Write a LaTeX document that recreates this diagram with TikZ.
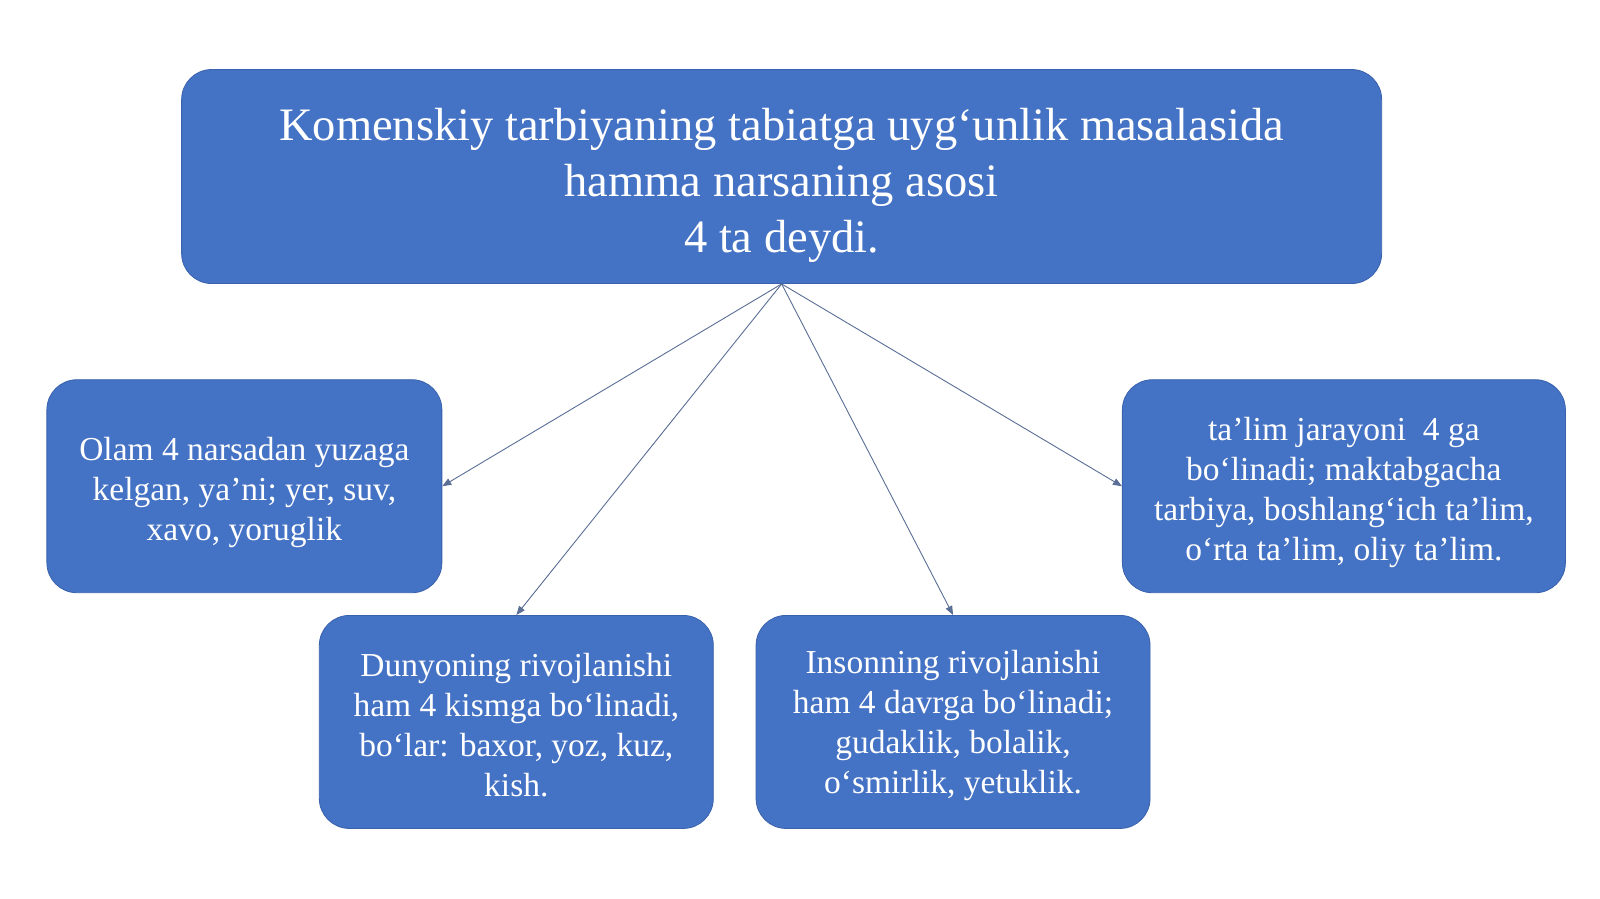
\documentclass[tikz,border=0pt]{standalone}
\usepackage{fontspec}
\setmainfont{Liberation Serif}
\usetikzlibrary{arrows.meta}
\definecolor{boxblue}{HTML}{4472C4}
\definecolor{boxedge}{HTML}{3A62AC}
\definecolor{arrowcol}{HTML}{5A6E96}
\begin{document}
\begin{tikzpicture}[x=1.0204pt,y=-1.0204pt,
  box/.style={draw=boxedge,line width=0.8pt,fill=boxblue,rounded corners=30pt,inner sep=0pt},
  txt/.style={text=white,align=center,inner sep=0pt},
  bigtext/.style={font=\fontsize{46.5}{56}\selectfont},
  smalltext/.style={font=\fontsize{33.5}{40}\selectfont},
  conn/.style={draw=arrowcol,line width=0.9pt,-{Triangle[length=9pt,width=7pt]}}]
\useasboundingbox (0,0) rectangle (1568,881);
\fill[white] (0,0) rectangle (1568,881);
% boxes
\node[box,minimum width=1200pt,minimum height=214pt] (top) at (766,173) {};
\node[box,minimum width=395pt,minimum height=213pt] (l) at (239.5,476.5) {};
\node[box,minimum width=443pt,minimum height=213pt] (r) at (1317,476.5) {};
\node[box,minimum width=394pt,minimum height=213pt] (bl) at (506,707.5) {};
\node[box,minimum width=394pt,minimum height=213pt] (br) at (934,707.5) {};
% texts
\node[txt,bigtext] (toptext) at (766,182)
  {Komenskiy tarbiyaning tabiatga uyg‘unlik masalasida\\hamma narsaning asosi\\4 ta deydi.};
\node[txt,smalltext] (ltext) at (239.5,482.5)
  {Olam 4 narsadan yuzaga\\kelgan, ya’ni; yer, suv,\\xavo, yoruglik};
\node[txt,smalltext] (rtext) at (1317,482.5)
  {ta’lim jarayoni~~4 ga\\bo‘linadi; maktabgacha\\tarbiya, boshlang‘ich ta’lim,\\o‘rta ta’lim, oliy ta’lim.};
\node[txt,smalltext] (bltext) at (506,710.5)
  {Dunyoning rivojlanishi\\ham 4 kismga bo‘linadi,\\bo‘lar: baxor, yoz, kuz,\\kish.};
\node[txt,smalltext] (brtext) at (934,710.5)
  {Insonning rivojlanishi\\ham 4 davrga bo‘linadi;\\gudaklik, bolalik,\\o‘smirlik, yetuklik.};
% connectors
\draw[conn] (top.south) -- (l.east);
\draw[conn] (top.south) -- (r.west);
\draw[conn] (top.south) -- (bl.north);
\draw[conn] (top.south) -- (br.north);
\end{tikzpicture}
\end{document}
